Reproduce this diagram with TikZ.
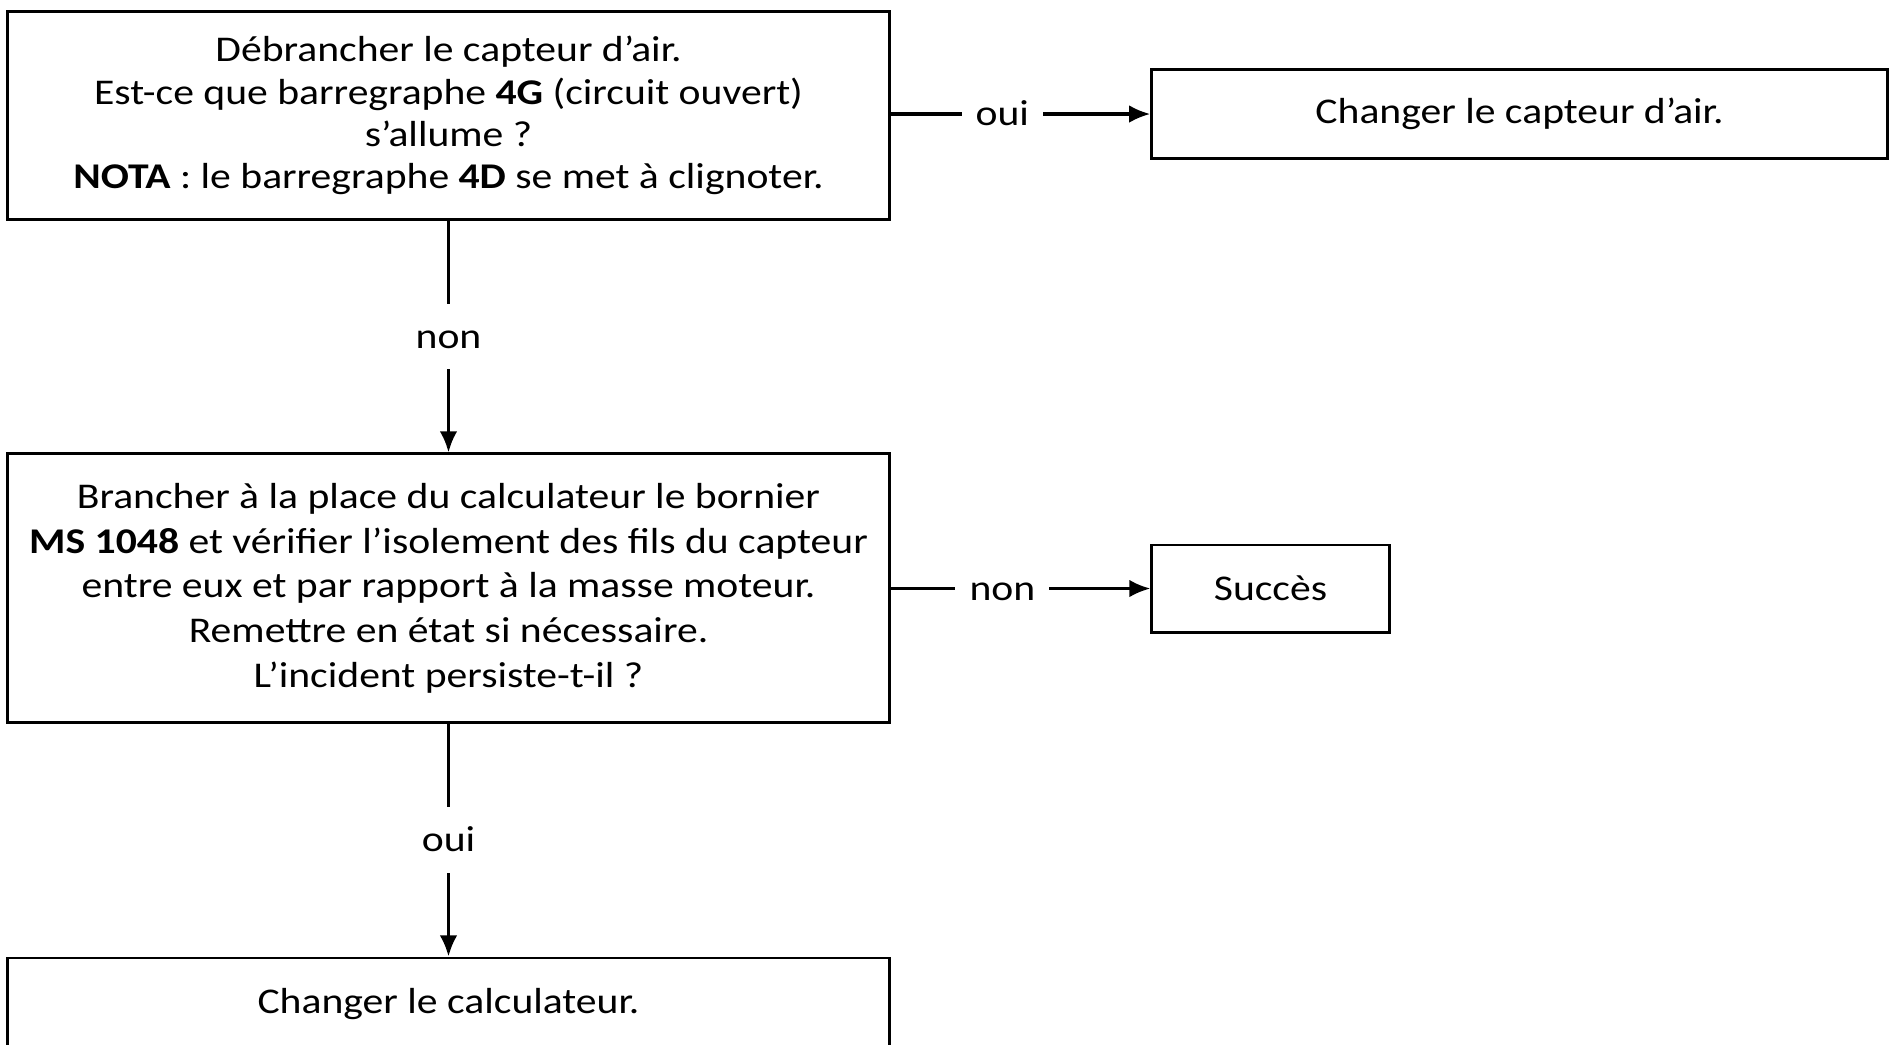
\documentclass[tikz,border=0pt]{standalone}
\usepackage{fontspec}
\setmainfont{Carlito}[FakeStretch=1.15]
\usetikzlibrary{arrows.meta}

\begin{document}
\begin{tikzpicture}[x=0.01cm, y=-0.01cm,
		every node/.style={font=\fontsize{10.3}{12}\selectfont},
		box/.style={draw, line width=0.85pt, align=center, inner sep=0pt},
		wide box/.style={box, minimum width=8.81cm},
		link/.style={line width=0.9pt, -{Latex[length=6pt,width=5pt]}},
		answer/.style={fill=white, inner xsep=4pt, inner ysep=5pt, text height=1.6ex, text depth=0.2ex}]
	\useasboundingbox (0,0) rectangle (1894,1044);
	% questions on the left, results on the right
	\node[wide box, minimum height=2.07cm] (airCheck) at (448.5,115.5)
		{Débrancher le capteur d’air.\\
		 Est-ce que barregraphe \textbf{4G} (circuit ouvert)\\
		 s’allume ?\\
		 \textbf{NOTA} : le barregraphe \textbf{4D} se met à clignoter.};
	\node[box, minimum width=7.35cm, minimum height=0.88cm] (airChange) at (1519.5,114)
		{Changer le capteur d'air.};
	\node[wide box, minimum height=2.68cm,
		font=\fontsize{10.3}{12.7}\selectfont] (wireCheck) at (448.5,588)
		{Brancher à la place du calculateur le bornier\\
		 \textbf{MS 1048} et vérifier l’isolement des fils du capteur\\
		 entre eux et par rapport à la masse moteur.\\
		 Remettre en état si nécessaire.\\
		 L’incident persiste-t-il ?};
	\node[box, minimum width=2.37cm, minimum height=0.87cm] (success) at (1270.5,588.5)
		{Succès};
	\node[wide box, minimum height=0.92cm] (ecuChange) at (448.5,1004)
		{Changer le calculateur.};

	\draw[link] (airCheck) -- node[answer] {non} (wireCheck);
	\draw[link] (airCheck.east |- airChange) -- node[answer, pos=0.43] {oui} (airChange);
	\draw[link] (wireCheck.east |- success) -- node[answer, pos=0.43] {non} (success);
	\draw[link] (wireCheck) -- node[answer] {oui} (ecuChange);
\end{tikzpicture}
\end{document}
